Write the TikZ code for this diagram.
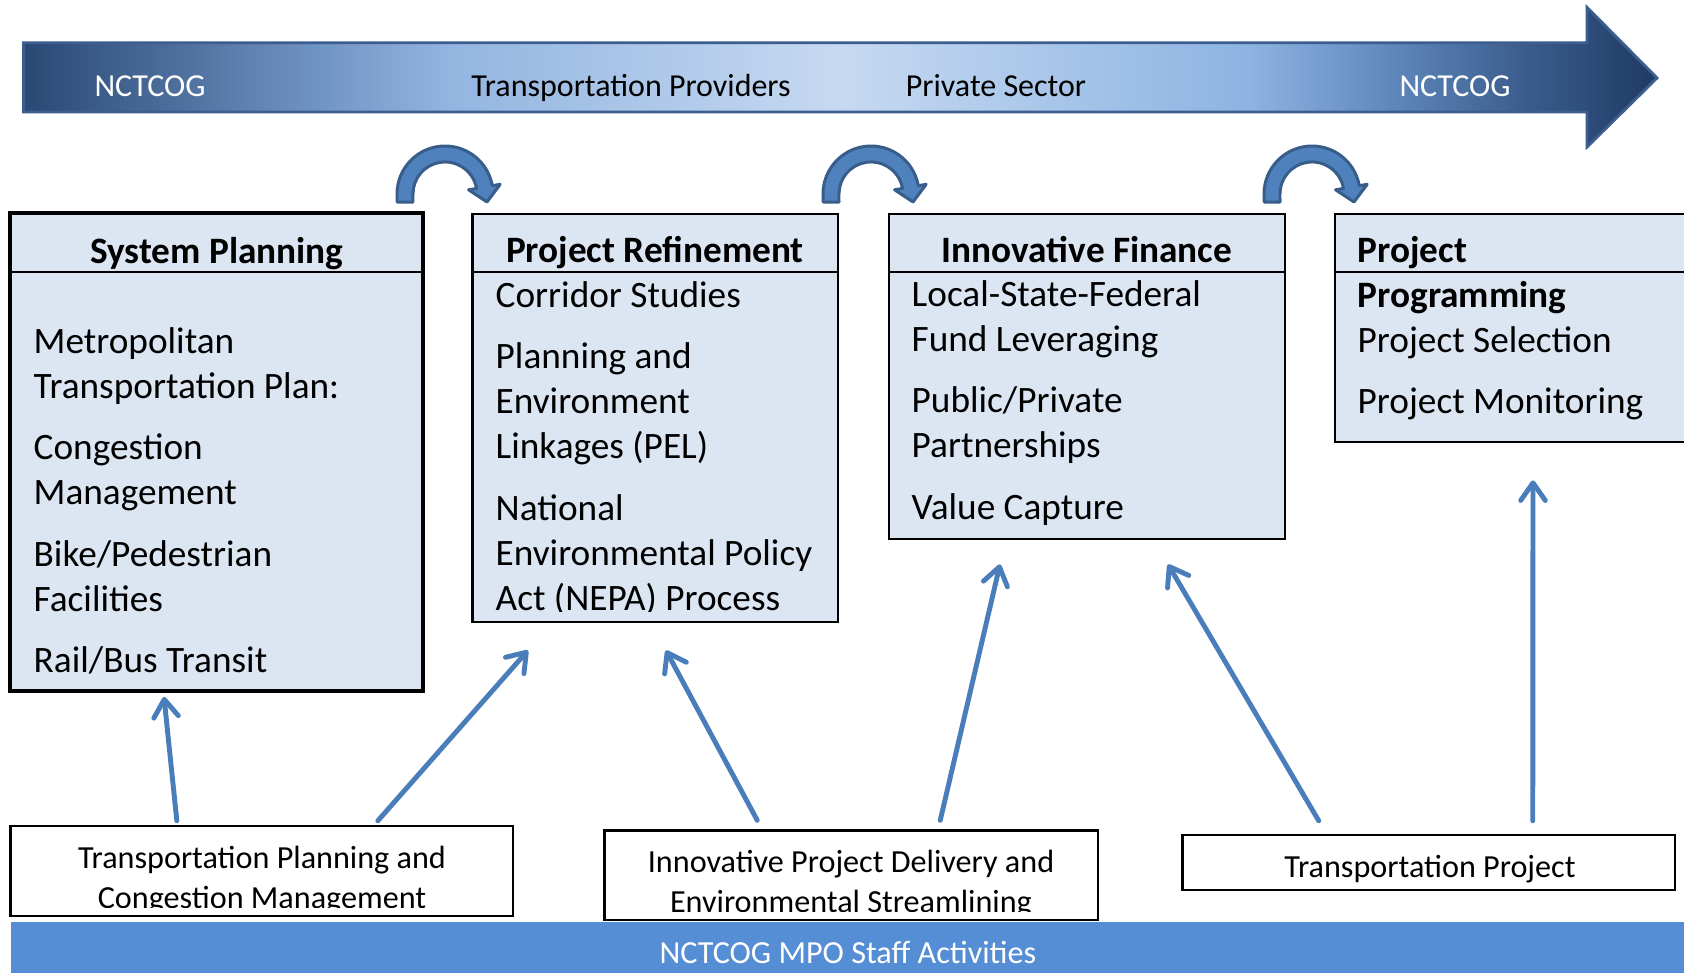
\documentclass[tikz,border=0pt]{standalone}
\usepackage{fontspec}
\setmainfont{Carlito}
\usetikzlibrary{arrows.meta,fit}
\definecolor{boxfill}{HTML}{DCE6F2}
\definecolor{flowblue}{HTML}{4A7EBB}
\definecolor{turnfill}{HTML}{4F81BD}
\definecolor{turnline}{HTML}{385D8A}
\definecolor{staffblue}{HTML}{558ED5}
\definecolor{barline}{HTML}{3B5E8F}
\definecolor{bnA}{HTML}{2A4874}
\definecolor{bnB}{HTML}{6F93C4}
\definecolor{bnC}{HTML}{93B5E0}
\definecolor{bnD}{HTML}{C6D9F1}
\definecolor{bnE}{HTML}{8DB4E2}
\definecolor{bnF}{HTML}{5E86BA}
\definecolor{bnG}{HTML}{3A5C8C}
\definecolor{bnH}{HTML}{1F3A64}
\pgfdeclarehorizontalshading{bannershade}{100bp}{color(0bp)=(bnA); color(25bp)=(bnA); color(34bp)=(bnB); color(38bp)=(bnC); color(50bp)=(bnD); color(62.5bp)=(bnE); color(67bp)=(bnF); color(71bp)=(bnG); color(75bp)=(bnH); color(100bp)=(bnH)}
\newcommand{\itemfont}{\fontsize{10.6pt}{12.8pt}\selectfont}
\newcommand{\headfont}{\fontsize{10.6pt}{12.8pt}\selectfont\bfseries}
\newcommand{\barfont}{\fontsize{9.1pt}{11pt}\selectfont}
\newcommand{\actfont}{\fontsize{9.15pt}{11.4pt}\selectfont}
\tikzset{
  panel/.style={draw=black, fill=boxfill, line width=0.8pt, inner sep=0pt},
  actbox/.style={draw=black, fill=white, line width=0.7pt, inner sep=0pt},
  rule/.style={black, line width=0.6pt},
  head/.style={font=\headfont, inner sep=0pt, anchor=base},
  item/.style={font=\itemfont, inner sep=0pt, anchor=base west, text width=3.8cm, align=flush left},
  bar/.style={font=\barfont, inner sep=0pt, anchor=base},
  act/.style={font=\actfont, inner sep=0pt, anchor=base, text width=5cm, align=flush center},
  flow/.style={flowblue, line width=1.4pt, line cap=round, -{Straight Barb[length=5pt,width=7pt,round]}},
  uturn/.style={fill=turnfill, draw=turnline, line width=0.85pt, line join=round}
}
\begin{document}
\begin{tikzpicture}[x=0.01cm, y=-0.01cm]
  \useasboundingbox (0,0) rectangle (1684,972);
  \def\pargap{4.7pt}
  \shadedraw[shading=bannershade, draw=barline, line width=0.8pt, line join=miter]
    (23.6,42.7) -- (1587,42.7) -- (1587,7.3) -- (1657,78) -- (1587,147) -- (1587,112) -- (23.6,112) -- cycle;
  \node[bar, text=white] (prov-a) at (150,96) {NCTCOG};
  \node[bar] (prov-b) at (631,96) {Transportation Providers};
  \node[bar] (prov-c) at (996,96) {Private Sector};
  \node[bar, text=white] (prov-d) at (1455,96) {NCTCOG};
  \foreach \c in {445,871,1312}
    \filldraw[uturn] ({\c-48},202) -- ({\c-48},194) arc[start angle=180, end angle=350, radius=48]
      -- ({\c+55.2},184.3) -- ({\c+42},202) -- ({\c+23.6},189.8) -- ({\c+31.5},188.4)
      arc[start angle=350, end angle=180, radius=32] -- ({\c-32},202) -- cycle;
  \node[panel, line width=1.1pt, fit={(10,213) (423,691)}] (sysplan) {};
  \node[panel, fit={(472.7,214) (838,622)}] (refine) {};
  \node[panel, fit={(889,214) (1285,539)}] (finance) {};
  \node[panel, fit={(1335,214) (1700,442)}] (program) {};
  \foreach \b in {sysplan,refine,finance,program}
    \draw[rule] (\b.west |- 0,272) -- (\b.east |- 0,272);
  \node[head] (sysplan-h) at (217,263) {System Planning};
  \node[head] (refine-h) at (655,262) {Project Refinement};
  \node[head] (finance-h) at (1087,262) {Innovative Finance};
  \node[head, anchor=base west] (program-h) at (1357,262) {Project};
  \node[item] (sysplan-l) at (33,353) {Metropolitan\\Transportation Plan:\\[\pargap]Congestion\\Management\\[\pargap]Bike/Pedestrian\\Facilities\\[\pargap]Rail/Bus Transit};
  \begin{scope}
    \clip (refine.north west) rectangle ([shift={(0,-12)}]refine.south east);
    \node[item] (refine-l) at (495,307) {Corridor Studies\\[\pargap]Planning and\\Environment\\Linkages (PEL)\\[\pargap]National\\Environmental Policy\\Act (NEPA) Process};
  \end{scope}
  \node[item] (finance-l) at (911,306) {Local-State-Federal\\Fund Leveraging\\[\pargap]Public/Private\\Partnerships\\[\pargap]Value Capture};
  \node[item] (program-l) at (1357,307) {{\headfont Programming}\\Project Selection\\[\pargap]Project Monitoring};
  \node[actbox, fit={(10.7,826) (513,916)}] (tpcm) {};
  \node[actbox, fit={(604.5,830.5) (1098,920)}] (ipdes) {};
  \node[actbox, fit={(1182.5,835) (1675,890)}] (tproj) {};
  \node[fill=staffblue, inner sep=0pt, fit={(10.7,922) (1700,990)}] (staff) {};
  \node[act, text=white] (staff-l) at (848,963) {NCTCOG MPO Staff Activities};
  \begin{scope}
    \clip (tpcm.north west) rectangle ([shift={(0,-10)}]tpcm.south east);
    \node[act] (tpcm-l) at (262,868) {Transportation Planning and\\Congestion Management};
  \end{scope}
  \begin{scope}
    \clip (ipdes.north west) rectangle ([shift={(0,-10)}]ipdes.south east);
    \node[act] (ipdes-l) at (851,872) {Innovative Project Delivery and\\Environmental Streamlining};
  \end{scope}
  \node[act] (tproj-l) at (1430,877) {Transportation Project};
  \draw[flow] ([shift={(-85,-4)}]tpcm.north) -- ([shift={(-52.5,4)}]sysplan.south);
  \draw[flow] ([shift={(116,-4)}]tpcm.north) -- ([shift={(-127.4,27)}]refine.south);
  \draw[flow] ([shift={(-94,-9)}]ipdes.north) -- ([shift={(10.6,27)}]refine.south);
  \draw[flow] ([shift={(89,-9)}]ipdes.north) -- ([shift={(-87,24)}]finance.south);
  \draw[flow] ([shift={(-110,-13)}]tproj.north) -- ([shift={(81,24)}]finance.south);
  \draw[flow] ([shift={(104,-13)}]tproj.north) -- ([shift={(15.5,37)}]program.south);
\end{tikzpicture}
\end{document}
